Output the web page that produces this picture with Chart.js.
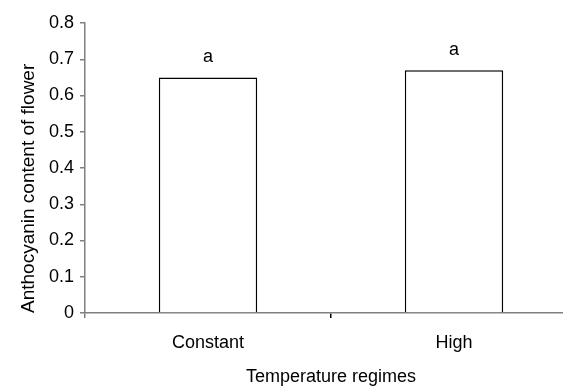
<!DOCTYPE html>
<html>
<head>
<meta charset="utf-8">
<script src="https://cdn.jsdelivr.net/npm/chart.js@4/dist/chart.umd.min.js"></script>
<style>
  html, body { margin: 0; padding: 0; background: #fff; overflow: hidden; }
  #wrap { width: 577px; height: 386px; }
</style>
</head>
<body>
<div id="wrap"><canvas id="c" width="577" height="386"></canvas></div>
<script>
const categories = ['Constant', 'High'];
const anthocyanin = [0.65, 0.67];
const letters = ['a', 'a'];
const yMin = 0;
const yMax = 0.8;
const yStep = 0.1;
const xTitle = 'Temperature regimes';
const yTitle = 'Anthocyanin content of flower';

const FONT = '"Liberation Sans", Arial, sans-serif';
const AXIS_GRAY = '#808080';

const letterPlugin = {
  id: 'letters',
  afterDatasetsDraw(chart) {
    const ctx = chart.ctx;
    const meta = chart.getDatasetMeta(0);
    ctx.save();
    ctx.font = '18px ' + FONT;
    ctx.fillStyle = '#000';
    ctx.textAlign = 'center';
    ctx.textBaseline = 'middle';
    meta.data.forEach((bar, i) => {
      ctx.fillText(letters[i], bar.x, bar.y - 20);
    });
    ctx.restore();
  }
};

new Chart(document.getElementById('c'), {
  type: 'bar',
  data: {
    labels: categories,
    datasets: [{
      data: anthocyanin,
      backgroundColor: '#ffffff',
      borderColor: '#000000',
      borderWidth: 1.5,
      categoryPercentage: 1.0,
      barPercentage: 0.4
    }]
  },
  options: {
    responsive: false,
    animation: false,
    devicePixelRatio: 1,
    layout: { padding: { top: 23, left: 0, right: 0, bottom: 0 } },
    plugins: { legend: { display: false }, tooltip: { enabled: false } },
    scales: {
      x: {
        offset: true,
        grid: {
          offset: true,
          drawOnChartArea: false,
          drawTicks: true,
          tickLength: 5,
          lineWidth: 1.5,
          color: (c) => c.index === 0 ? AXIS_GRAY : '#000000'
        },
        border: { display: true, color: AXIS_GRAY, width: 1.5 },
        ticks: { color: '#000', padding: 14, font: { family: FONT, size: 18 } },
        title: {
          display: true, text: xTitle, color: '#000',
          font: { family: FONT, size: 18 },
          padding: { top: 0, bottom: -2 }
        },
        afterFit: (s) => { s.height = 73; }
      },
      y: {
        min: yMin, max: yMax,
        grid: {
          drawOnChartArea: false,
          drawTicks: true,
          tickLength: 5,
          lineWidth: 1.5,
          color: AXIS_GRAY
        },
        border: { display: true, color: AXIS_GRAY, width: 1.5 },
        ticks: {
          stepSize: yStep, color: '#000', padding: 6,
          font: { family: FONT, size: 18 }
        },
        title: {
          display: true, text: yTitle, color: '#000', align: 'start',
          font: { family: FONT, size: 19 },
          padding: { top: 17, bottom: 0 }
        },
        afterFit: (s) => { s.width = 85; }
      }
    }
  },
  plugins: [letterPlugin]
});
</script>
</body>
</html>
